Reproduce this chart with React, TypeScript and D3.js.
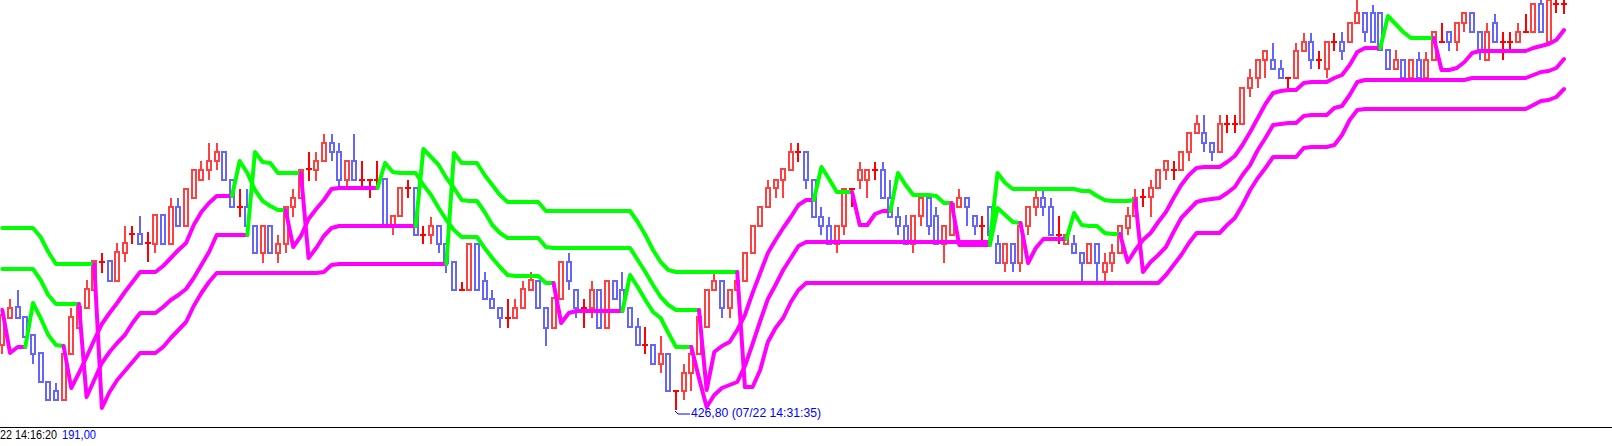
import React from 'react';
import * as d3 from 'd3';

const W = 1612;
const H = 446;

// ---- candle data (index = bar number) ----
const opens = [
  433.3, 436.0, 437.1, 436.1, 434.3, 432.5, 429.6, 428.7, 427.8, 432.4,
  435.0, 437.0, 438.8, 441.6, 441.7, 439.7, 442.5, 444.4, 444.4, 443.5,
  443.4, 446.3, 443.4, 447.1, 445.2, 448.0, 449.8, 450.8, 451.7, 452.6,
  449.8, 447.1, 447.1, 445.2, 442.5, 445.2, 442.5, 443.4, 447.1, 448.0,
  450.9, 450.8, 451.7, 453.5, 452.6, 449.8, 451.7, 449.8, 449.8, 449.8,
  449.9, 445.3, 446.2, 449.0, 449.0, 444.3, 444.3, 445.2, 443.4, 441.6,
  438.8, 438.8, 443.4, 439.7, 437.9, 437.0, 436.0, 436.0, 437.0, 438.8,
  439.7, 437.0, 435.0, 437.9, 441.6, 438.8, 437.0, 437.0, 438.8, 435.0,
  439.7, 438.8, 437.0, 435.1, 433.3, 433.3, 431.4, 432.4, 428.7, 428.7,
  430.5, 432.4, 435.1, 438.8, 439.7, 437.0, 438.8, 439.7, 442.5, 445.2,
  447.1, 449.0, 449.8, 450.8, 452.6, 452.6, 449.8, 446.1, 445.2, 443.4,
  445.2, 448.9, 449.8, 449.8, 450.8, 450.8, 448.0, 446.1, 445.2, 443.4,
  446.2, 448.0, 446.2, 443.4, 444.3, 447.1, 448.0, 446.2, 445.2, 447.1,
  443.4, 441.5, 443.4, 441.5, 445.2, 447.1, 448.0, 447.1, 444.3, 443.4,
  443.4, 442.5, 441.5, 443.4, 440.6, 441.5, 442.5, 445.0, 446.2, 448.1,
  448.1, 449.0, 450.8, 450.8, 450.8, 452.6, 454.5, 454.5, 453.5, 452.6,
  455.4, 455.4, 455.4, 459.0, 460.0, 461.8, 461.8, 460.9, 460.0, 460.0,
  462.7, 463.6, 461.8, 460.9, 463.6, 463.6, 463.6, 465.5, 466.5, 466.5,
  466.5, 462.8, 460.9, 461.8, 460.0, 461.8, 460.0, 461.8, 463.6, 464.6,
  463.6, 465.5, 466.5, 464.6, 461.8, 465.5, 463.6, 463.6, 463.6, 464.6,
  464.6, 467.4, 463.6, 467.4, 467.4,
];
const highs = [
  437.0, 437.9, 438.8, 436.1, 434.3, 432.5, 429.6, 429.5, 432.4, 437.0,
  437.2, 439.8, 441.7, 442.5, 441.7, 443.5, 445.2, 445.2, 446.2, 444.6,
  446.3, 446.3, 448.0, 448.0, 448.9, 450.8, 451.7, 453.5, 453.5, 452.6,
  449.8, 448.9, 448.9, 445.2, 445.2, 445.2, 444.3, 447.1, 448.9, 450.8,
  452.6, 452.6, 454.4, 454.4, 453.5, 451.7, 454.4, 451.7, 449.8, 451.7,
  449.9, 446.2, 449.0, 449.8, 449.0, 445.2, 446.1, 445.2, 443.4, 441.6,
  439.6, 443.4, 443.4, 440.6, 438.8, 437.0, 437.9, 437.9, 439.7, 440.6,
  439.7, 437.0, 438.0, 441.6, 442.5, 438.8, 437.9, 439.7, 438.8, 439.7,
  439.7, 440.6, 437.0, 436.0, 435.1, 433.3, 434.2, 432.4, 428.7, 431.4,
  433.3, 436.1, 438.8, 440.6, 439.7, 438.8, 439.7, 442.5, 445.2, 447.1,
  449.8, 449.8, 450.9, 453.5, 453.5, 452.6, 449.8, 447.1, 446.1, 445.2,
  448.9, 449.0, 451.6, 450.8, 451.6, 451.6, 449.8, 447.1, 446.3, 446.1,
  448.0, 448.0, 447.1, 445.2, 447.4, 448.9, 448.0, 446.2, 446.2, 447.1,
  444.3, 443.4, 443.4, 445.2, 447.1, 448.9, 448.9, 448.0, 446.2, 444.3,
  444.3, 442.5, 443.4, 443.4, 442.5, 443.4, 445.2, 447.1, 448.9, 448.9,
  449.8, 450.8, 451.7, 451.7, 452.6, 454.5, 456.3, 456.3, 453.5, 456.3,
  456.3, 456.3, 459.0, 460.9, 461.8, 462.7, 463.5, 461.8, 460.0, 463.5,
  464.5, 464.5, 462.7, 463.6, 464.5, 464.6, 465.5, 467.8, 466.5, 467.3,
  466.5, 462.8, 462.8, 461.8, 461.8, 462.6, 462.6, 464.6, 465.5, 464.6,
  465.5, 466.5, 466.5, 464.6, 465.5, 466.4, 464.6, 464.6, 465.5, 466.4,
  467.4, 467.8, 468.1, 467.8, 467.8,
];
const lows = [
  432.4, 436.0, 436.0, 434.1, 431.4, 429.6, 427.8, 427.8, 427.8, 432.4,
  435.0, 437.0, 438.8, 440.5, 439.7, 439.7, 441.6, 443.4, 443.4, 441.6,
  442.5, 443.4, 443.4, 445.2, 445.2, 448.0, 449.8, 449.8, 450.8, 449.8,
  447.1, 446.1, 445.2, 442.5, 441.5, 442.5, 441.5, 442.5, 446.1, 448.0,
  449.7, 449.7, 451.7, 451.7, 448.9, 448.9, 449.8, 448.9, 448.0, 448.9,
  445.3, 444.3, 446.2, 448.0, 444.3, 443.4, 443.4, 442.5, 440.5, 438.8,
  438.8, 438.8, 438.8, 437.9, 437.0, 435.0, 435.0, 436.0, 437.0, 438.8,
  437.0, 433.2, 435.0, 437.9, 438.8, 436.0, 435.0, 436.0, 435.0, 435.0,
  437.9, 437.0, 435.1, 433.3, 432.4, 431.4, 430.5, 428.7, 426.8, 427.8,
  428.7, 432.4, 435.1, 438.8, 436.0, 436.0, 438.8, 439.7, 442.5, 445.2,
  447.1, 448.0, 448.0, 450.8, 451.6, 448.9, 446.1, 444.3, 443.4, 442.5,
  444.3, 447.1, 448.9, 448.0, 449.8, 448.0, 446.1, 444.3, 443.4, 442.5,
  445.2, 444.3, 443.4, 441.5, 444.3, 447.1, 445.2, 444.3, 443.8, 444.3,
  441.5, 440.6, 440.6, 440.6, 444.3, 446.2, 446.2, 444.3, 443.4, 443.4,
  442.5, 439.6, 441.5, 439.6, 439.6, 440.6, 442.5, 444.3, 446.2, 447.1,
  446.1, 449.0, 449.8, 449.8, 450.8, 451.7, 454.5, 452.6, 451.7, 452.6,
  454.5, 454.5, 455.4, 458.1, 459.0, 460.0, 460.9, 460.0, 459.0, 460.0,
  462.7, 460.9, 460.9, 460.0, 462.7, 461.8, 463.6, 465.5, 463.6, 463.6,
  462.8, 460.9, 460.9, 460.0, 459.8, 460.0, 459.8, 461.8, 463.6, 462.7,
  462.7, 464.6, 464.6, 461.8, 461.8, 463.6, 461.8, 462.8, 463.6, 464.6,
  464.6, 464.6, 463.6, 466.5, 466.4,
];
const closes = [
  436.3, 437.0, 436.0, 434.1, 432.4, 429.6, 427.8, 427.8, 432.4, 436.1,
  437.1, 438.9, 441.7, 441.6, 439.7, 442.6, 443.5, 444.4, 443.4, 443.5,
  446.3, 443.4, 447.1, 445.2, 448.9, 450.8, 450.8, 451.7, 452.6, 449.8,
  447.1, 447.1, 445.2, 442.5, 445.2, 442.5, 443.4, 447.1, 448.0, 450.8,
  450.9, 451.7, 453.5, 452.6, 449.8, 451.7, 449.8, 449.8, 449.8, 449.8,
  445.3, 446.2, 449.0, 449.0, 444.3, 444.3, 445.2, 443.4, 441.5, 438.8,
  438.8, 443.4, 438.8, 437.9, 437.0, 436.0, 436.0, 437.0, 438.9, 439.8,
  437.0, 435.0, 438.0, 441.6, 439.7, 437.0, 437.0, 438.8, 435.0, 439.7,
  437.9, 437.0, 435.1, 433.3, 433.3, 431.4, 432.4, 428.7, 428.7, 430.5,
  432.4, 436.1, 438.8, 439.7, 437.0, 438.8, 439.7, 442.5, 445.2, 447.1,
  449.0, 449.8, 450.9, 452.6, 452.6, 449.8, 446.1, 445.2, 443.4, 445.2,
  448.9, 448.9, 450.8, 450.8, 450.8, 448.0, 446.1, 445.2, 443.4, 446.2,
  448.0, 445.2, 443.4, 445.2, 447.4, 448.0, 447.1, 445.2, 445.2, 444.3,
  441.5, 443.4, 441.5, 445.2, 447.1, 448.0, 447.1, 444.3, 444.3, 444.3,
  442.5, 441.5, 443.4, 441.5, 441.5, 442.5, 445.2, 446.2, 448.0, 448.1,
  449.0, 450.8, 451.7, 450.8, 452.6, 454.5, 455.4, 453.5, 452.6, 455.4,
  455.4, 455.4, 459.0, 460.0, 461.8, 462.7, 460.9, 460.0, 460.0, 462.7,
  463.6, 461.8, 461.8, 463.6, 463.6, 462.7, 465.5, 466.5, 464.6, 463.6,
  462.8, 460.9, 461.8, 460.0, 461.8, 460.0, 461.8, 464.6, 463.6, 463.6,
  465.5, 466.5, 464.6, 462.8, 464.6, 463.6, 463.6, 463.6, 464.6, 464.6,
  467.4, 464.6, 467.8, 467.4, 467.4,
];

// ---- trailing stop lines ----
const fastStop = [
  436.8, 432.5, 433.1, 433.1, 437.5, 436.0, 434.3, 433.3, 433.2, 429.0,
  430.5, 432.1, 433.8, 435.4, 436.5, 437.5, 438.6, 439.6, 440.6, 440.6,
  440.6, 441.2, 442.0, 442.8, 443.5, 445.3, 446.6, 447.5, 448.2, 448.2,
  448.2, 451.7, 450.5, 448.8, 447.7, 447.2, 446.8, 446.8, 443.1, 444.2,
  445.9, 446.9, 447.8, 448.9, 449.0, 449.0, 449.0, 449.0, 449.0, 449.0,
  451.5, 450.6, 450.5, 450.5, 450.5, 449.3, 448.3, 447.0, 445.8, 444.8,
  444.1, 444.1, 444.1, 443.0, 442.0, 441.1, 440.3, 440.2, 440.2, 440.2,
  440.2, 439.5, 439.5, 435.5, 436.5, 436.7, 436.7, 436.7, 436.7, 436.7,
  436.7, 436.7, 440.3, 439.1, 437.8, 436.6, 436.0, 434.5, 433.1, 433.1,
  433.1, 430.0, 427.1, 428.3, 429.0, 429.3, 429.6, 431.2, 433.4, 435.7,
  437.9, 439.3, 440.8, 442.0, 443.2, 443.6, 443.6, 443.6, 443.6, 443.6,
  443.6, 443.6, 443.6, 443.6, 443.6, 443.6, 443.6, 443.6, 443.6, 443.6,
  443.6, 443.6, 443.6, 443.6, 443.6, 443.6, 443.6, 443.6, 443.6, 443.6,
  450.5, 449.5, 448.9, 448.9, 448.9, 448.9, 448.9, 448.9, 448.9, 448.9,
  448.9, 448.7, 448.7, 448.2, 447.8, 447.7, 447.7, 447.7, 447.8, 440.6,
  441.6, 442.3, 443.1, 444.6, 446.0, 446.8, 447.6, 447.8, 447.9, 448.0,
  448.5, 449.1, 450.3, 451.3, 452.8, 454.0, 455.3, 455.4, 455.5, 455.5,
  456.2, 456.3, 456.3, 456.3, 457.0, 457.2, 458.3, 459.6, 459.8, 459.8,
  459.8, 459.8, 459.8, 459.8, 459.8, 459.8, 459.8, 459.8, 459.8, 459.8,
  459.8, 459.8, 460.0, 460.0, 460.0, 460.0, 460.0, 460.0, 460.0, 460.0,
  460.3, 460.6, 460.7, 461.0, 461.9,
];
const midStop = [
  440.9, 440.9, 440.9, 440.9, 440.9, 439.8, 438.3, 437.4, 437.4, 437.4,
  437.4, 428.1, 429.8, 431.5, 432.6, 433.5, 434.3, 435.5, 436.5, 436.5,
  436.5, 437.1, 437.8, 438.3, 438.9, 440.0, 441.3, 442.6, 444.3, 444.3,
  444.3, 444.3, 444.3, 452.6, 451.6, 451.5, 450.5, 450.5, 450.5, 450.5,
  442.0, 443.0, 444.2, 445.0, 445.2, 445.2, 445.2, 445.2, 445.2, 445.2,
  445.2, 445.2, 445.2, 445.2, 445.2, 452.9, 452.1, 451.3, 450.0, 449.0,
  447.8, 447.7, 447.7, 446.6, 445.3, 444.5, 444.0, 444.0, 444.0, 444.0,
  444.0, 443.1, 443.0, 443.0, 443.0, 443.0, 443.0, 443.0, 443.0, 443.0,
  443.0, 443.0, 443.0, 441.8, 440.6, 439.3, 438.1, 437.3, 436.8, 436.8,
  436.8, 436.8, 428.8, 432.6, 433.2, 433.6, 434.8, 436.3, 438.5, 440.5,
  442.5, 443.8, 445.0, 446.1, 447.3, 447.8, 447.8, 451.1, 449.9, 448.6,
  448.6, 448.6, 445.3, 445.3, 446.4, 446.7, 446.7, 450.5, 449.3, 448.3,
  448.3, 448.3, 448.2, 447.5, 447.5, 443.3, 443.3, 443.3, 443.3, 443.3,
  447.0, 446.3, 445.6, 445.5, 441.5, 443.0, 443.9, 443.9, 443.9, 443.9,
  446.5, 445.3, 445.2, 445.2, 444.5, 444.4, 444.4, 441.6, 442.8, 443.8,
  444.5, 445.6, 446.6, 448.0, 449.3, 450.3, 451.0, 451.1, 451.1, 451.1,
  451.6, 452.2, 453.3, 454.6, 456.0, 457.4, 458.5, 458.7, 458.8, 458.8,
  459.5, 459.6, 459.6, 459.6, 460.0, 460.3, 461.3, 462.6, 463.0, 463.0,
  463.0, 466.2, 465.4, 464.6, 464.0, 464.0, 464.0, 464.0, 460.8, 460.8,
  461.0, 461.6, 462.5, 462.7, 462.7, 462.7, 462.7, 462.7, 462.7, 462.7,
  463.0, 463.2, 463.4, 463.8, 464.8,
];
const slowStop = [
  445.0, 445.0, 445.0, 445.0, 445.0, 444.1, 442.6, 441.4, 441.4, 441.4,
  441.4, 441.4, 441.4, 427.0, 428.6, 429.8, 430.7, 431.6, 432.5, 432.5,
  432.5, 433.1, 434.0, 434.8, 435.6, 437.2, 438.5, 439.6, 440.5, 440.5,
  440.5, 440.5, 440.5, 440.5, 440.5, 440.5, 440.5, 440.5, 440.5, 440.5,
  440.5, 440.5, 440.6, 441.3, 441.4, 441.4, 441.4, 441.4, 441.4, 441.4,
  441.4, 441.4, 441.4, 441.4, 441.4, 441.4, 441.4, 441.4, 441.4, 452.5,
  451.5, 451.5, 451.5, 450.3, 449.3, 448.3, 447.6, 447.6, 447.6, 447.6,
  447.6, 446.7, 446.7, 446.7, 446.7, 446.7, 446.7, 446.7, 446.7, 446.7,
  446.7, 446.7, 446.7, 445.6, 444.3, 442.8, 441.6, 440.8, 440.6, 440.6,
  440.6, 440.6, 440.6, 440.6, 440.6, 440.6, 440.6, 429.1, 429.1, 430.8,
  433.6, 435.0, 436.0, 437.6, 438.8, 439.5, 439.5, 439.5, 439.5, 439.5,
  439.5, 439.5, 439.5, 439.5, 439.5, 439.5, 439.5, 439.5, 439.5, 439.5,
  439.5, 439.5, 439.5, 439.5, 439.5, 439.5, 439.5, 439.5, 439.5, 439.5,
  439.5, 439.5, 439.5, 439.5, 439.5, 439.5, 439.5, 439.5, 439.5, 439.5,
  439.5, 439.5, 439.5, 439.5, 439.5, 439.5, 439.5, 439.5, 439.5, 439.5,
  439.5, 439.5, 440.3, 441.3, 442.3, 443.5, 444.5, 444.5, 444.5, 444.5,
  445.3, 446.0, 447.3, 448.8, 450.0, 451.0, 452.1, 452.1, 452.1, 452.1,
  453.0, 453.1, 453.1, 453.1, 453.3, 454.3, 455.8, 456.8, 456.9, 456.9,
  456.9, 456.9, 456.9, 456.9, 456.9, 456.9, 456.9, 456.9, 456.9, 456.9,
  456.9, 456.9, 456.9, 456.9, 456.9, 456.9, 456.9, 456.9, 456.9, 456.9,
  457.3, 457.7, 457.8, 458.1, 458.9,
];
// bars where each stop switches side (green = above price, magenta = below)
const fastFlips = [4, 9, 31, 38, 50, 73, 82, 91, 130, 149];
const midFlips = [11, 33, 40, 55, 92, 107, 112, 117, 125, 130, 134, 140, 147, 181, 188];
const slowFlips = [13, 59, 97];
const fastStartsAbove = false;
const midStartsAbove = true;
const slowStartsAbove = true;

// ---- text labels ----
const lowTime = '07/22 14:31:35';
const footerTime = '22 14:16:20';
const footerValue = '191,00';

const UP = '#ff4040';
const DOWN = '#6464ff';
const DOJI = '#ff0000';
const ABOVE = '#00ff00';
const BELOW = '#ff00ff';

function stopRuns(vals: number[], flips: number[], startAbove: boolean) {
  const f = new Set(flips);
  let s = startAbove;
  const state = vals.map((_, i) => {
    if (f.has(i)) s = !s;
    return s;
  });
  const runs: { above: boolean; idx: number[] }[] = [];
  let cur = { above: state[0], idx: [0] };
  for (let i = 1; i < vals.length; i++) {
    if (state[i] === cur.above) cur.idx.push(i);
    else {
      runs.push(cur);
      cur = { above: state[i], idx: [i - 1, i] };
    }
  }
  runs.push(cur);
  return runs;
}

export default function App() {
  const n = opens.length;
  const x = d3.scaleLinear().domain([0, n - 1]).range([2.35, 1564]);
  const y = d3.scaleLinear().domain([467.8, 423.2]).range([0, 446]);
  const fmt = (v: number) => d3.format('.2f')(v).replace('.', ',');

  const lines = [
    { vals: slowStop, runs: stopRuns(slowStop, slowFlips, slowStartsAbove) },
    { vals: midStop, runs: stopRuns(midStop, midFlips, midStartsAbove) },
    { vals: fastStop, runs: stopRuns(fastStop, fastFlips, fastStartsAbove) },
  ];

  const lowIdx = d3.minIndex(lows);
  const lx = Math.round(x(lowIdx));
  const ly = Math.round(y(lows[lowIdx]));
  const axisY = 427.5;

  return (
    <svg
      width={W}
      height={H}
      style={{ position: 'fixed', left: 0, top: 0, background: '#fff' }}
      fontFamily="'Liberation Sans', Arial, sans-serif"
    >
      <rect x={0} y={0} width={W} height={H} fill="#fff" />
      <g shapeRendering="crispEdges">
        {d3.range(n).map((i) => {
          const o = opens[i], c = closes[i], h = highs[i], l = lows[i];
          const cx = Math.round(x(i));
          if (o === c) {
            const yo = Math.round(y(o));
            return (
              <g key={i}>
                <line x1={cx} x2={cx} y1={Math.round(y(h))} y2={Math.round(y(l))} stroke={DOJI} strokeWidth={2} />
                <line x1={cx - 3} x2={cx + 3} y1={yo} y2={yo} stroke={DOJI} strokeWidth={2} />
              </g>
            );
          }
          const col = c > o ? UP : DOWN;
          const top = Math.round(y(Math.max(o, c)));
          const bot = Math.round(y(Math.min(o, c)));
          return (
            <g key={i}>
              <line x1={cx} x2={cx} y1={Math.round(y(h))} y2={Math.round(y(l))} stroke={col} strokeWidth={2} />
              <rect x={cx - 2} y={top} width={4} height={Math.max(bot - top, 1)} fill="#fff" stroke={col} strokeWidth={2} />
            </g>
          );
        })}
      </g>
      <g fill="none" strokeWidth={4} strokeLinejoin="round" strokeLinecap="round">
        {lines.map((ln, li) =>
          ln.runs.map((r, ri) => {
            const path = d3
              .line<number>()
              .x((i) => x(i))
              .y((i) => y(ln.vals[i]))(r.idx);
            return <path key={`${li}-${ri}`} d={path || ''} stroke={r.above ? ABOVE : BELOW} />;
          })
        )}
      </g>
      <line x1={0} x2={W} y1={axisY} y2={axisY} stroke="#000" strokeWidth={1} shapeRendering="crispEdges" />
      <path
        d={`M${lx - 1},${ly + 1} L${lx + 2},${ly + 4} L${lx + 14},${ly + 4}`}
        fill="none"
        stroke="#0000ff"
        strokeWidth={1}
      />
      <text x={lx + 15} y={ly + 7} fontSize={12} fill="#0000ff" textLength={130} lengthAdjust="spacingAndGlyphs">
        {`${fmt(lows[lowIdx])} (${lowTime})`}
      </text>
      <text x={0} y={439} fontSize={12} fill="#000" textLength={57} lengthAdjust="spacingAndGlyphs">
        {footerTime}
      </text>
      <text x={62} y={439} fontSize={12} fill="#0000ff" textLength={34} lengthAdjust="spacingAndGlyphs">
        {footerValue}
      </text>
    </svg>
  );
}
